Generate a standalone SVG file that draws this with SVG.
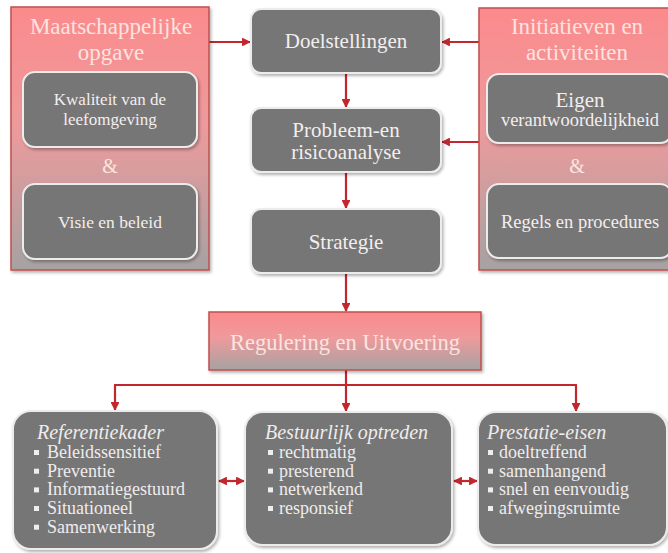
<svg xmlns="http://www.w3.org/2000/svg" width="668" height="553" viewBox="0 0 668 553">
<defs>
<linearGradient id="redg" x1="0" y1="0" x2="0" y2="1">
<stop offset="0" stop-color="#fb8a8c"/>
<stop offset="0.45" stop-color="#ee9a9c"/>
<stop offset="1" stop-color="#a6a2a2"/>
</linearGradient>
<filter id="sh" x="-10%" y="-10%" width="125%" height="125%">
<feDropShadow dx="1.5" dy="2" stdDeviation="1.5" flood-color="#000" flood-opacity="0.3"/>
</filter>
<marker id="ah" viewBox="0 0 10 10" refX="9" refY="5" markerWidth="4" markerHeight="4" orient="auto-start-reverse">
<path d="M0,0 L10,5 L0,10 z" fill="#c1272d"/>
</marker>
</defs>
<style>
.red{fill:url(#redg);stroke:#c0504d;stroke-width:1.5;filter:url(#sh)}
.gray{fill:#767676;stroke:#ececec;stroke-width:2;filter:url(#sh)}
.t{font-family:"Liberation Serif","DejaVu Serif",serif;fill:#f3eeee;text-anchor:middle}
.tr{font-family:"Liberation Serif","DejaVu Serif",serif;fill:#fbe4e0;text-anchor:middle}
.l{font-family:"Liberation Serif","DejaVu Serif",serif;fill:#f0ecec;font-size:18px}
.it{font-style:italic;font-size:20px}
.b{fill:#eeeeee}
.c{stroke:#c1272d;stroke-width:2.2;fill:none}
.ca{stroke:#c1272d;stroke-width:2.2;fill:none;marker-end:url(#ah)}
.cd{stroke:#c1272d;stroke-width:2.2;fill:none;marker-end:url(#ah);marker-start:url(#ah)}
</style>
<rect width="668" height="553" fill="#ffffff"/>

<g id="connectors">
<line class="ca" x1="209" y1="42" x2="250" y2="42"/>
<line class="ca" x1="479" y1="42" x2="442" y2="42"/>
<line class="ca" x1="479" y1="142" x2="442" y2="142"/>
<line class="ca" x1="346" y1="73" x2="346" y2="107"/>
<line class="ca" x1="346" y1="172" x2="346" y2="208"/>
<line class="ca" x1="346" y1="273" x2="346" y2="311"/>
<line class="c" x1="346" y1="370" x2="346" y2="385"/>
<line class="c" x1="114" y1="385" x2="577" y2="385"/>
<line class="ca" x1="115" y1="385" x2="115" y2="410"/>
<line class="ca" x1="346" y1="385" x2="346" y2="411"/>
<line class="ca" x1="576" y1="385" x2="576" y2="411"/>
<line class="cd" x1="219" y1="481" x2="244" y2="481"/>
<line class="cd" x1="454" y1="481" x2="477" y2="481"/>
</g>

<g id="maatschappelijke-opgave">
<rect class="red" x="11" y="7" width="198" height="263"/>
<text class="tr" x="111" y="34" font-size="23">Maatschappelijke</text>
<text class="tr" x="111" y="60" font-size="23">opgave</text>
<text class="tr" x="110" y="173" font-size="20">&amp;</text>
</g>
<g id="kwaliteit">
<rect class="gray" x="23" y="72" width="174" height="75" rx="12"/>
<text class="t" x="110" y="104.5" font-size="17">Kwaliteit van de</text>
<text class="t" x="110" y="124.5" font-size="17">leefomgeving</text>
</g>
<g id="visie">
<rect class="gray" x="23" y="184" width="174" height="75" rx="12"/>
<text class="t" x="110" y="228" font-size="17.5">Visie en beleid</text>
</g>

<g id="initiatieven">
<rect class="red" x="479" y="8" width="195" height="262"/>
<text class="tr" x="577" y="34" font-size="23">Initiatieven en</text>
<text class="tr" x="577" y="60" font-size="23">activiteiten</text>
<text class="tr" x="577" y="173" font-size="20">&amp;</text>
</g>
<g id="eigen">
<rect class="gray" x="487" y="74" width="185" height="69" rx="12"/>
<text class="t" x="580" y="107" font-size="21">Eigen</text>
<text class="t" x="580" y="126" font-size="18.5">verantwoordelijkheid</text>
</g>
<g id="regels">
<rect class="gray" x="487" y="184" width="185" height="74" rx="12"/>
<text class="t" x="580" y="228" font-size="18.5">Regels en procedures</text>
</g>

<g id="doelstellingen">
<rect class="gray" x="251" y="9" width="190" height="64" rx="10"/>
<text class="t" x="346" y="48" font-size="21">Doelstellingen</text>
</g>
<g id="probleem">
<rect class="gray" x="251" y="108" width="190" height="64" rx="10"/>
<text class="t" x="346" y="137" font-size="21">Probleem-en</text>
<text class="t" x="346" y="159" font-size="21">risicoanalyse</text>
</g>
<g id="strategie">
<rect class="gray" x="251" y="209" width="190" height="64" rx="10"/>
<text class="t" x="346" y="249" font-size="21">Strategie</text>
</g>

<g id="regulering">
<rect class="red" x="209" y="312" width="272" height="58"/>
<text class="tr" x="345" y="350" font-size="22.5">Regulering en Uitvoering</text>
</g>

<g id="referentiekader">
<rect class="gray" x="13" y="411" width="204" height="138" rx="18"/>
<text class="l it" x="37" y="439">Referentiekader</text>
<rect class="b" x="34" y="450" width="5" height="5"/>
<text class="l" x="47" y="458">Beleidssensitief</text>
<rect class="b" x="34" y="468.7" width="5" height="5"/>
<text class="l" x="47" y="476.7">Preventie</text>
<rect class="b" x="34" y="487.4" width="5" height="5"/>
<text class="l" x="47" y="495.4">Informatiegestuurd</text>
<rect class="b" x="34" y="506" width="5" height="5"/>
<text class="l" x="47" y="514">Situationeel</text>
<rect class="b" x="34" y="524.7" width="5" height="5"/>
<text class="l" x="47" y="532.7">Samenwerking</text>
</g>

<g id="bestuurlijk">
<rect class="gray" x="245" y="412" width="207" height="133" rx="18"/>
<text class="l it" x="265" y="439">Bestuurlijk optreden</text>
<rect class="b" x="268" y="450" width="5" height="5"/>
<text class="l" x="279" y="458">rechtmatig</text>
<rect class="b" x="268" y="468.7" width="5" height="5"/>
<text class="l" x="279" y="476.7">presterend</text>
<rect class="b" x="268" y="487.4" width="5" height="5"/>
<text class="l" x="279" y="495.4">netwerkend</text>
<rect class="b" x="268" y="506" width="5" height="5"/>
<text class="l" x="279" y="514">responsief</text>
</g>

<g id="prestatie-eisen">
<rect class="gray" x="478" y="412" width="189" height="133" rx="18"/>
<text class="l it" x="487" y="439">Prestatie-eisen</text>
<rect class="b" x="488" y="450" width="5" height="5"/>
<text class="l" x="499" y="458">doeltreffend</text>
<rect class="b" x="488" y="468.7" width="5" height="5"/>
<text class="l" x="499" y="476.7">samenhangend</text>
<rect class="b" x="488" y="487.4" width="5" height="5"/>
<text class="l" x="499" y="495.4">snel en eenvoudig</text>
<rect class="b" x="488" y="506" width="5" height="5"/>
<text class="l" x="499" y="514">afwegingsruimte</text>
</g>
</svg>
